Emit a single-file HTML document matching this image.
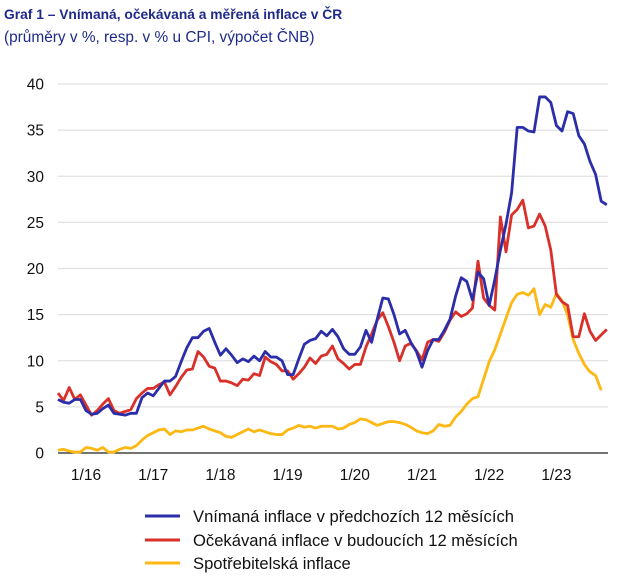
<!DOCTYPE html>
<html><head><meta charset="utf-8"><style>
body{margin:0;background:#fff;font-family:"Liberation Sans",sans-serif;}
svg text{font-family:"Liberation Sans",sans-serif;}
</style></head><body>
<svg id="c" width="631" height="583" viewBox="0 0 631 583">
<text x="4" y="19" font-size="13.8" font-weight="bold" fill="#1f2a8a">Graf 1 – Vnímaná, očekávaná a měřená inflace v ČR</text>
<text x="4" y="42" font-size="15.4" fill="#1f2a8a">(průměry v %, resp. v % u CPI, výpočet ČNB)</text>
<g id="grid"></g><g id="ylab"></g><g id="xlab"></g><g id="series"></g>
<g>
<line x1="145" y1="516" x2="180" y2="516" stroke="#2b2ea8" stroke-width="3"/>
<text x="193" y="522" font-size="16.6" fill="#111">Vnímaná inflace v předchozích 12 měsících</text>
<line x1="145" y1="540" x2="180" y2="540" stroke="#d9302a" stroke-width="3"/>
<text x="193" y="546" font-size="16.6" fill="#111">Očekávaná inflace v budoucích 12 měsících</text>
<line x1="145" y1="563" x2="180" y2="563" stroke="#fdb813" stroke-width="3"/>
<text x="193" y="569" font-size="16.6" fill="#111">Spotřebitelská inflace</text>
</g>
</svg>
<script>
const yTicks=[0,5,10,15,20,25,30,35,40];
const xTickLabels=["1/16","1/17","1/18","1/19","1/20","1/21","1/22","1/23"];
const xTickMonths=[5,17,29,41,53,65,77,89];
const perceived=[5.8,5.5,5.4,5.8,5.8,4.6,4.2,4.3,4.8,5.2,4.3,4.2,4.1,4.3,4.3,6.0,6.5,6.2,7.0,7.8,7.8,8.3,9.9,11.4,12.5,12.5,13.2,13.5,12.0,10.6,11.3,10.6,9.8,10.2,9.9,10.5,10.0,11.0,10.4,10.4,10.0,8.5,8.5,10.2,11.8,12.2,12.4,13.2,12.7,13.4,12.6,11.3,10.7,10.7,11.5,13.3,12.0,14.5,16.8,16.7,15.0,12.9,13.3,12.0,11.0,9.3,11.1,12.3,12.3,13.3,14.5,17.0,19.0,18.6,16.6,19.6,18.9,16.0,18.8,22.0,24.8,28.2,35.3,35.3,34.9,34.8,38.6,38.6,38.0,35.5,34.9,37.0,36.8,34.4,33.5,31.6,30.2,27.3,26.9];
const expected=[6.5,5.7,7.1,5.8,6.3,5.2,4.1,4.6,5.3,5.9,4.6,4.3,4.5,4.7,5.9,6.5,7.0,7.0,7.4,7.7,6.3,7.2,8.2,9.0,9.1,11.0,10.4,9.4,9.2,7.8,7.8,7.6,7.3,8.0,7.9,8.6,8.4,10.4,9.9,9.6,8.9,8.9,8.0,8.6,9.3,10.3,9.7,10.5,10.7,11.6,10.2,9.7,9.1,9.6,9.6,11.5,12.9,14.4,15.2,13.7,12.0,10.0,11.6,11.9,11.1,10.1,12.0,12.3,12.1,13.1,14.4,15.3,14.8,15.1,15.7,20.8,16.8,16.0,15.5,25.6,21.8,25.8,26.4,27.4,24.4,24.6,25.9,24.6,22.0,17.2,16.4,16.0,12.6,12.6,15.1,13.2,12.2,12.8,13.4];
const cpi=[0.3,0.4,0.2,0.1,0.1,0.6,0.5,0.3,0.6,0.1,0.1,0.4,0.6,0.5,0.8,1.4,1.9,2.2,2.5,2.6,2.0,2.4,2.3,2.5,2.5,2.7,2.9,2.6,2.4,2.2,1.8,1.7,2.0,2.3,2.6,2.3,2.5,2.3,2.1,2.0,2.0,2.5,2.7,3.0,2.8,2.9,2.7,2.9,2.9,2.9,2.6,2.7,3.1,3.3,3.7,3.6,3.3,3.0,3.2,3.4,3.4,3.3,3.1,2.8,2.4,2.2,2.1,2.4,3.1,2.9,3.0,3.9,4.5,5.3,5.9,6.1,8.0,9.9,11.2,12.9,14.6,16.3,17.2,17.4,17.1,17.8,15.0,16.1,15.8,17.3,16.5,15.0,12.3,10.8,9.6,8.8,8.4,6.8];
const X0=58,DX=5.6,Y0=453,DY=9.225;
const xs=i=>X0+i*DX, ys=v=>Y0-v*DY;
const NS="http://www.w3.org/2000/svg";
function mk(t,a,p){const e=document.createElementNS(NS,t);for(const k in a)e.setAttribute(k,a[k]);p.appendChild(e);return e;}
const g=document.getElementById('grid'),yl=document.getElementById('ylab'),xl=document.getElementById('xlab'),sg=document.getElementById('series');
yTicks.forEach(v=>{
 const l=mk('line',{x1:X0,x2:608,y1:ys(v),y2:ys(v),stroke:v===0?'#222':'#e0e0e0','stroke-width':v===0?1.3:1.2},g);
 
 
 const t=mk('text',{x:44,y:ys(v)+5.5,'font-size':15.5,'text-anchor':'end',fill:'#111'},yl);t.textContent=v;
 
 
});
xTickLabels.forEach((s,k)=>{
 const t=mk('text',{x:xs(xTickMonths[k]),y:480,'font-size':15.5,'text-anchor':'middle',fill:'#111'},xl);t.textContent=s;
 
 
});
[[cpi,'#fdb813','cpi-line'],[expected,'#d9302a','expected-inflation-line'],[perceived,'#2b2ea8','perceived-inflation-line']].forEach(([d,c,n])=>{
 const p=mk('polyline',{points:d.map((v,i)=>xs(i)+','+ys(v)).join(' '),fill:'none',stroke:c,'stroke-width':2.8,'stroke-linejoin':'round'},sg);
 
 
});
</script>
</body></html>
